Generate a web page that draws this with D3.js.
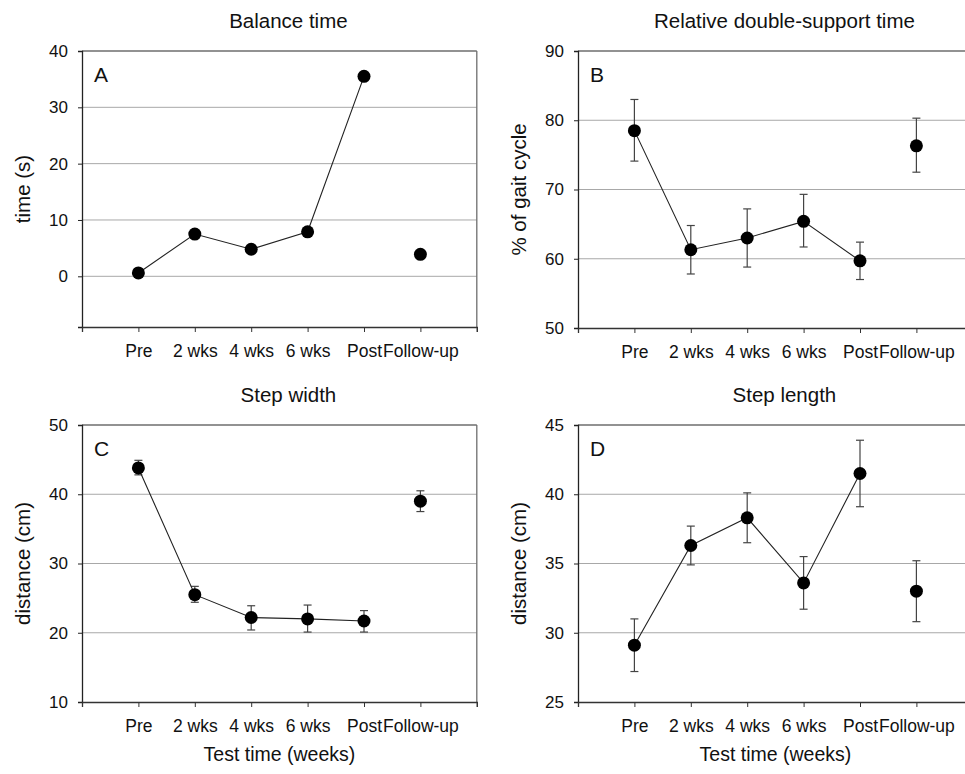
<!DOCTYPE html>
<html>
<head>
<meta charset="utf-8">
<script src="https://cdn.jsdelivr.net/npm/d3@7"></script>
<style>
  body { margin: 0; background: #fff; }
  svg { display: block; font-family: "Liberation Sans", Arial, sans-serif; }
</style>
</head>
<body>
<svg id="chart" width="965" height="774"></svg>
<script>
// test time categories (shared by all panels)
const weeks = ["Pre", "2 wks", "4 wks", "6 wks", "Post", "Follow-up"];

// A: balance time (s), no error bars
const balanceMean = [0.6, 7.5, 4.8, 7.9, 35.5, 3.9];

// B: relative double-support time (% of gait cycle)
const doubleMean = [78.5, 61.3, 63.0, 65.4, 59.7, 76.3];
const doubleLow  = [74.1, 57.8, 58.8, 61.7, 57.0, 72.5];
const doubleHigh = [83.0, 64.8, 67.2, 69.3, 62.4, 80.3];

// C: step width (cm)
const widthMean = [43.8, 25.5, 22.2, 22.0, 21.7, 39.0];
const widthLow  = [42.8, 24.4, 20.4, 20.1, 20.1, 37.5];
const widthHigh = [44.9, 26.7, 23.9, 24.0, 23.2, 40.5];

// D: step length (cm)
const lengthMean = [29.1, 36.3, 38.3, 33.6, 41.5, 33.0];
const lengthLow  = [27.2, 34.9, 36.5, 31.7, 39.1, 30.8];
const lengthHigh = [31.0, 37.7, 40.1, 35.5, 43.9, 35.2];

const svg = d3.select("#chart");

const panels = [
    {letter: "A", title: "Balance time", ylabel: "time (s)", left: 82, top: 51, bottom: 327,
     ydomain: [-9, 40], yticks: [0, 10, 20, 30, 40], mean: balanceMean, low: null, high: null, xlabel: false},
    {letter: "B", title: "Relative double-support time", ylabel: "% of gait cycle", left: 578, top: 51, bottom: 328,
     ydomain: [50, 90], yticks: [50, 60, 70, 80, 90], mean: doubleMean, low: doubleLow, high: doubleHigh, xlabel: false},
    {letter: "C", title: "Step width", ylabel: "distance (cm)", left: 82, top: 425, bottom: 702,
     ydomain: [10, 50], yticks: [10, 20, 30, 40, 50], mean: widthMean, low: widthLow, high: widthHigh, xlabel: true},
    {letter: "D", title: "Step length", ylabel: "distance (cm)", left: 578, top: 425, bottom: 702,
     ydomain: [25, 45], yticks: [25, 30, 35, 40, 45], mean: lengthMean, low: lengthLow, high: lengthHigh, xlabel: true}
];

const step = 56.4;   // px between categories

panels.forEach(function (p) {
    const right = p.left + step * 7;
    const x = d3.scaleLinear().domain([0, 7]).range([p.left, right]);
    const y = d3.scaleLinear().domain(p.ydomain).range([p.bottom, p.top]);
    const g = svg.append("g");

    // gridlines
    g.selectAll(".grid").data(p.yticks.filter(t => t > p.ydomain[0] && t < p.ydomain[1]))
        .enter().append("line")
        .attr("x1", p.left).attr("x2", right)
        .attr("y1", d => y(d)).attr("y2", d => y(d))
        .attr("stroke", "#a8a8a8").attr("stroke-width", 1);

    // top and right frame
    g.append("line").attr("x1", p.left).attr("x2", right).attr("y1", p.top).attr("y2", p.top)
        .attr("stroke", "#6e6e6e").attr("stroke-width", 1.3);
    g.append("line").attr("x1", right).attr("x2", right).attr("y1", p.top).attr("y2", p.bottom)
        .attr("stroke", "#6e6e6e").attr("stroke-width", 1.3);

    // y axis
    const yAxis = g.append("g").attr("transform", "translate(" + p.left + ",0)")
        .call(d3.axisLeft(y).tickValues(p.yticks).tickSize(4).tickPadding(10).tickFormat(d3.format("d")));
    yAxis.select(".domain").attr("stroke", "#222").attr("stroke-width", 1.3);
    yAxis.selectAll(".tick line").attr("stroke", "#222");
    yAxis.selectAll("text").attr("font-size", 17).attr("fill", "#111").attr("font-family", null);

    // x axis
    const xAxis = g.append("g").attr("transform", "translate(0," + p.bottom + ")")
        .call(d3.axisBottom(x).tickValues(d3.range(0, 8)).tickSize(5).tickPadding(13)
            .tickFormat(i => (i >= 1 && i <= 6) ? weeks[i - 1] : ""));
    xAxis.select(".domain").attr("stroke", "#333").attr("stroke-width", 1.3);
    xAxis.selectAll(".tick line").attr("stroke", "#333");
    xAxis.selectAll("text").attr("font-size", 17.5).attr("fill", "#111").attr("font-family", null);

    // error bars
    if (p.low) {
        const eb = g.selectAll(".err").data(p.mean).enter().append("g");
        eb.append("line").attr("x1", (d, i) => x(i + 1)).attr("x2", (d, i) => x(i + 1))
            .attr("y1", (d, i) => y(p.low[i])).attr("y2", (d, i) => y(p.high[i]));
        eb.append("line").attr("x1", (d, i) => x(i + 1) - 4).attr("x2", (d, i) => x(i + 1) + 4)
            .attr("y1", (d, i) => y(p.low[i])).attr("y2", (d, i) => y(p.low[i]));
        eb.append("line").attr("x1", (d, i) => x(i + 1) - 4).attr("x2", (d, i) => x(i + 1) + 4)
            .attr("y1", (d, i) => y(p.high[i])).attr("y2", (d, i) => y(p.high[i]));
        eb.selectAll("line").attr("stroke", "#444").attr("stroke-width", 1.2);
    }

    // connecting line Pre..Post (follow-up not connected)
    const line = d3.line().x((d, i) => x(i + 1)).y(d => y(d));
    g.append("path").datum(p.mean.slice(0, 5)).attr("d", line)
        .attr("fill", "none").attr("stroke", "#222").attr("stroke-width", 1.1);

    g.selectAll(".dot").data(p.mean).enter().append("circle")
        .attr("cx", (d, i) => x(i + 1)).attr("cy", d => y(d)).attr("r", 6.5)
        .attr("fill", "#000");

    // panel letter
    g.append("text").attr("x", p.left + 12).attr("y", p.top + 31)
        .attr("font-size", 21).attr("fill", "#111").text(p.letter);

    // title
    g.append("text").attr("x", (p.left + right) / 2 + 9).attr("y", p.top - 23)
        .attr("text-anchor", "middle").attr("font-size", 20.5).attr("fill", "#111").text(p.title);

    // y label
    g.append("text")
        .attr("transform", "translate(" + (p.left - 52) + "," + ((p.top + p.bottom) / 2) + ") rotate(-90)")
        .attr("text-anchor", "middle").attr("font-size", 20.5).attr("fill", "#111").text(p.ylabel);

    if (p.xlabel) {
        g.append("text").attr("x", (p.left + right) / 2).attr("y", p.bottom + 59)
            .attr("text-anchor", "middle").attr("font-size", 19.5).attr("fill", "#111")
            .text("Test time (weeks)");
    }
});
</script>
</body>
</html>
